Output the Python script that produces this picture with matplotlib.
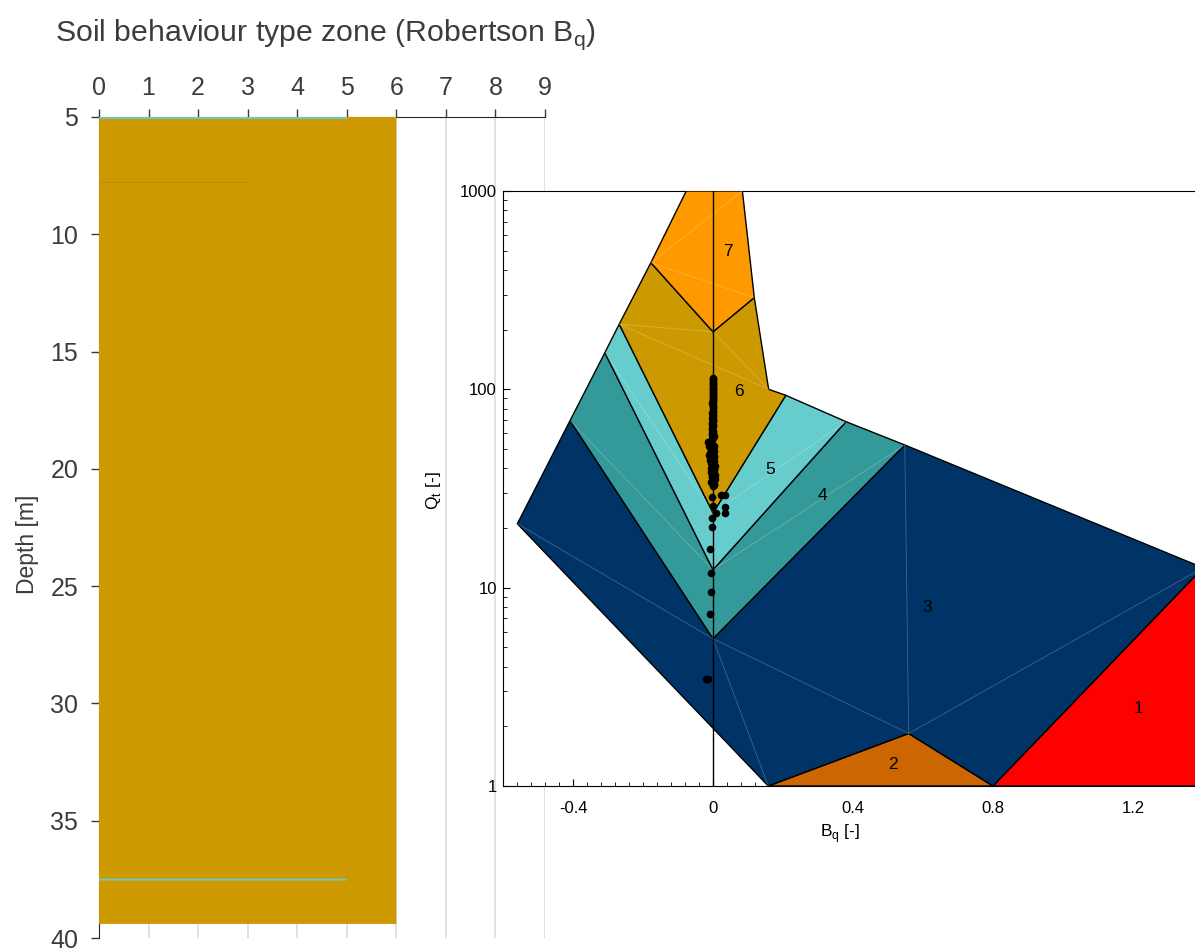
import matplotlib.pyplot as plt
import matplotlib.ticker as mticker
from matplotlib.patches import Polygon

plt.rcParams['font.family'] = ['Liberation Sans', 'DejaVu Sans']
plt.rcParams['mathtext.fontset'] = 'custom'
plt.rcParams['mathtext.rm'] = 'Liberation Sans'

# --- depth profile (left plot), later layers drawn over earlier ones ---
layer_top = [5.0, 5.0, 7.8, 37.47]
layer_bottom = [39.4, 5.08, 7.804, 37.55]
layer_zone = [6, 5, 3, 5]

zone_colors = {1: '#FF0000', 2: '#CC6600', 3: '#003366', 4: '#339999',
               5: '#66CCCC', 6: '#CC9900', 7: '#FF9900'}

# --- Robertson Bq chart zones (Bq, Qt) ---
zone_ids = [1, 2, 3, 4, 5, 6, 7]
zone_polys = [
    [(0.8, 1), (1.4, 12.6), (1.4, 1)],
    [(0.158, 1), (0.559, 1.84), (0.8, 1)],
    [(-0.559, 21.0), (-0.4085, 69.5), (0, 5.53), (0.548, 52.4), (1.4, 12.6),
     (0.8, 1), (0.559, 1.84), (0.158, 1)],
    [(-0.4085, 69.5), (-0.309, 153), (0, 12.3), (0.38, 68.7), (0.548, 52.4), (0, 5.53)],
    [(-0.309, 153), (-0.268, 213), (0, 23.8), (0.208, 93.3), (0.38, 68.7), (0, 12.3)],
    [(-0.268, 213), (-0.1775, 435), (0, 195), (0.118, 290), (0.159, 100),
     (0.208, 93.3), (0, 23.8)],
    [(-0.0764, 1000), (0.084, 1000), (0.118, 290), (0, 195), (-0.1775, 435)],
]
label_bq = [1.217, 0.515, 0.613, 0.312, 0.163, 0.074, 0.043]
label_qt = [2.47, 1.28, 7.9, 29.3, 39.2, 98, 493]

# faint patch triangulation lines
mesh_segments = [
    [(-0.559, 21.0), (0, 5.53)],
    [(0, 5.53), (0.559, 1.84)],
    [(0, 5.53), (0.158, 1)],
    [(0.548, 52.4), (0.559, 1.84)],
    [(0.559, 1.84), (1.4, 12.6)],
    [(-0.4085, 69.5), (0, 12.3)],
    [(0, 12.3), (0.548, 52.4)],
    [(-0.309, 153), (0, 23.8)],
    [(0, 23.8), (0.38, 68.7)],
    [(-0.268, 213), (0.159, 100)],
    [(-0.268, 213), (0, 195)],
    [(0, 195), (0.159, 100)],
    [(-0.1775, 435), (0.118, 290)],
    [(-0.1775, 435), (0.084, 1000)],
]

# CPT data points
pts_qt = [114, 111, 108, 105, 102, 99, 96, 93, 90, 87, 84, 81, 78, 76, 73,
          71, 69, 67, 65, 63, 61, 59, 57, 55, 54, 53, 52, 51, 50, 49,
          48, 47, 46, 45, 44, 43, 42, 41, 40, 39, 38, 37, 36, 35, 34,
          33, 32.5,
          112.5, 109.5, 106.5, 103.5, 100.5, 97.5, 94.5, 91.5, 88.5, 85.5,
          82.5, 79.5, 77, 74.5, 72, 70, 68, 66, 64, 62,
          60, 58, 56, 54.5, 53.5, 52.5, 51.5, 50.5, 49.5, 48.5,
          47.5, 46.5, 45.5, 44.5, 43.5, 42.5, 41.5, 40.5, 39.5, 38.5,
          37.5, 36.5, 35.5, 34.5, 33.5,
          29.3, 29.3, 28.8, 25.8, 25.6, 23.7, 23.7, 22.5, 20.3,
          15.7, 11.9, 9.5, 7.4, 3.46, 3.46]
pts_bq = [-0.001, 0.001, -0.001, 0.0, 0.001, -0.001, 0.0, 0.001, -0.001, 0.0,
          -0.001, 0.001, 0.0, -0.002, 0.001, -0.001, 0.0, -0.002, 0.001, -0.002,
          0.0, -0.004, 0.001, -0.006, -0.012, -0.003, 0.002, -0.008, -0.004, 0.003,
          -0.010, -0.001, 0.004, -0.006, -0.009, 0.001, -0.003, 0.005, -0.007, 0.002,
          -0.004, 0.006, -0.002, 0.004, -0.005, 0.002, 0.0,
          0.001, -0.001, 0.001, -0.001, 0.001, 0.001, -0.001, -0.001, 0.001, -0.002,
          0.001, -0.001, 0.001, 0.001, -0.002, 0.001, -0.002, 0.001, -0.002, 0.001,
          -0.002, 0.002, -0.003, -0.014, -0.009, -0.006, -0.012, 0.001, -0.007, -0.002,
          -0.005, -0.011, 0.002, -0.004, 0.003, -0.006, 0.001, -0.002, 0.004, -0.006,
          0.003, -0.003, 0.005, -0.001, 0.003,
          0.022, 0.033, -0.002, 0.0, 0.034, 0.034, 0.008, -0.002, -0.002,
          -0.009, -0.006, -0.006, -0.009, -0.019, -0.014]

txt = '#3c3c3c'
fig = plt.figure(figsize=(11.95, 9.52), dpi=100)

# ---------------- left: depth profile ----------------
ax = fig.add_axes([99 / 1195, 1 - 938 / 952, 446 / 1195, 821 / 952])
for top, bot, z in zip(layer_top, layer_bottom, layer_zone):
    ax.barh(top, z, height=bot - top, align='edge', color=zone_colors[z],
            linewidth=0, zorder=3, clip_on=False, snap=False)
ax.set_xlim(0, 9)
ax.set_ylim(40, 5)
ax.xaxis.tick_top()
ax.set_xticks(range(10))
ax.set_yticks(range(5, 41, 5))
ax.tick_params(direction='out', length=6, width=1, colors=txt, labelsize=18)
ax.tick_params(axis='x', pad=6)
ax.tick_params(axis='y', pad=9)
ax.spines['bottom'].set_visible(False)
ax.spines['right'].set_visible(False)
for s in ('left', 'top'):
    ax.spines[s].set_color('#262626')
    ax.spines[s].set_zorder(2)
ax.grid(axis='x', color='#dedede', lw=1.3)
ax.set_axisbelow(True)
ax.set_ylabel('Depth [m]', fontsize=16.5, color=txt)
ax.yaxis.set_label_coords(-0.1345, 0.479)
fig.text(325 / 1195, 1 - 41 / 952, r'Soil behaviour type zone (Robertson B$_\mathregular{q}$)',
         fontsize=21.8, ha='center', va='baseline', color=txt)

# ---------------- right: Robertson Bq chart ----------------
ax2 = fig.add_axes([503 / 1195, 1 - 786 / 952, 700 / 1195, 595 / 952])
ax2.set_facecolor('white')
ax2.set_xlim(-0.6, 1.4)
ax2.set_yscale('log')
ax2.set_ylim(1, 1000)

for z, verts in zip(zone_ids, zone_polys):
    ax2.add_patch(Polygon(verts, closed=True, facecolor=zone_colors[z],
                          edgecolor='black', lw=1, zorder=3))
for seg in mesh_segments:
    ax2.plot([seg[0][0], seg[1][0]], [seg[0][1], seg[1][1]], color='white',
             lw=0.6, alpha=0.25, zorder=3.5)
ax2.axvline(0, color='black', lw=1, zorder=4)
ax2.plot(pts_bq, pts_qt, 'o', color='black', ms=5.5, mew=0, zorder=5)
for z, bx, qy in zip(zone_ids, label_bq, label_qt):
    ax2.text(bx, qy, str(z), fontsize=12.5, ha='center', va='center', zorder=6)

ax2.set_xticks([-0.4, 0, 0.4, 0.8, 1.2])
ax2.set_xticklabels(['-0.4', '0', '0.4', '0.8', '1.2'])
ax2.xaxis.set_minor_locator(mticker.MultipleLocator(0.04))
ax2.set_yticks([1, 10, 100, 1000])
ax2.set_yticklabels(['1', '10', '100', '1000'])
ax2.yaxis.set_minor_locator(mticker.LogLocator(subs=range(2, 10)))
ax2.yaxis.set_minor_formatter(mticker.NullFormatter())
ax2.tick_params(which='both', direction='in', top=False, right=False,
                colors='black', labelsize=12)
ax2.tick_params(which='major', length=5)
ax2.tick_params(which='minor', length=2.7)
ax2.tick_params(axis='x', pad=11)
ax2.tick_params(axis='y', pad=4.5)
ax2.set_xlabel(r'B$_\mathregular{q}$ [-]', fontsize=12.5)
ax2.xaxis.set_label_coords((840 - 503) / 700, -0.0605)
ax2.set_ylabel(r'Q$_\mathregular{t}$ [-]', fontsize=12.5)
ax2.yaxis.set_label_coords((443 - 503) / 700, 0.497)

fig.savefig('out.png', dpi=100)
